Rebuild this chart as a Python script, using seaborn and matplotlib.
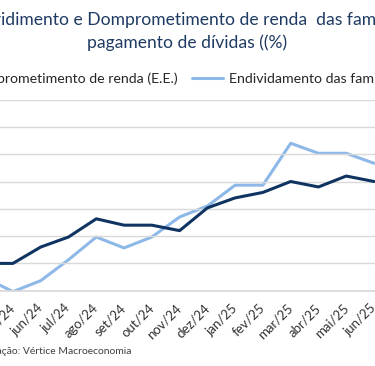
import matplotlib
matplotlib.use("Agg")
import matplotlib.pyplot as plt
import seaborn as sns
import pandas as pd

months = ["abr/24", "mai/24", "jun/24", "jul/24", "ago/24", "set/24", "out/24",
          "nov/24", "dez/24", "jan/25", "fev/25", "mar/25", "abr/25", "mai/25", "jun/25"]
comprometimento = [26.50, 26.50, 26.68, 26.79, 26.99, 26.92, 26.92,
                   26.86, 27.11, 27.22, 27.28, 27.40, 27.34, 27.46, 27.40]
endividamento = [47.74, 47.59, 47.71, 47.94, 48.19, 48.07, 48.19,
                 48.41, 48.53, 48.76, 48.76, 49.22, 49.11, 49.11, 49.00]

dark = "#0f3461"
light = "#8db8e8"
grid_c = "#d9d9d9"
title_c = "#1f3b63"

df = pd.DataFrame({"mes": months, "x": range(len(months)),
                   "comp": comprometimento, "endiv": endividamento})

sns.set_theme(style="white")
plt.rcParams["font.family"] = ["Lato", "DejaVu Sans"]

fig = plt.figure(figsize=(3.75, 3.66), dpi=100)
# plot area is wider than the visible crop: y axes fall outside the image
ax = fig.add_axes([-28.7 / 375, 75.3 / 366, 416.6 / 375, 191.1 / 366])
ax2 = ax.twinx()

sns.lineplot(data=df, x="x", y="comp", ax=ax, color=dark, lw=2.2,
             label="Comprometimento de renda (E.E.)", legend=False)
sns.lineplot(data=df, x="x", y="endiv", ax=ax2, color=light, lw=2.2,
             label="Endividamento das famílias (E.D.)", legend=False)

ax.set_xlim(-0.5, len(months) - 0.5)
ax.set_ylim(26.2, 28.3)
ax2.set_ylim(47.6, 49.7)
ax.set_yticks([26.2 + 0.3 * i for i in range(8)])
ax2.set_yticks([47.6 + 0.3 * i for i in range(8)])
ax.yaxis.grid(True, color=grid_c, lw=1)
ax.set_zorder(ax2.get_zorder() + 1)
ax.patch.set_visible(False)

ax.set_xticks(df["x"])
ax.set_xticklabels(df["mes"], rotation=45, ha="right", va="center",
                   rotation_mode="anchor", fontsize=9.5, color="#333333")
ax.tick_params(axis="x", length=0, pad=11)
ax.set_xlabel("")
ax.set_ylabel("")
ax2.set_ylabel("")
for a in (ax, ax2):
    for s in a.spines.values():
        s.set_visible(False)
ax.spines["bottom"].set_visible(True)
ax.spines["bottom"].set_color(grid_c)

# title: the image is a crop, the first line starts off-canvas
renderer = fig.canvas.get_renderer()
pre = fig.text(0, 0, "Endivi", fontsize=12.6)
pre_w = pre.get_window_extent(renderer).width
pre.remove()
fig.text((5 - pre_w) / 375, 1 - 20 / 366,
         "Endividimento e Domprometimento de renda  das famílias com",
         ha="left", va="center", fontsize=12.6, color=title_c)
fig.text(0.5, 1 - 43 / 366, "pagamento de dívidas ((%)",
         ha="center", va="center", fontsize=12.6, color=title_c)

h1, l1 = ax.get_legend_handles_labels()
h2, l2 = ax2.get_legend_handles_labels()
fig.legend(h1 + h2, l1 + l2, loc="center",
           bbox_to_anchor=(0.5 - 5 / 375, 1 - 79 / 366),
           ncol=2, frameon=False, fontsize=10.2, handlelength=2.2,
           columnspacing=1.0, handletextpad=0.4, labelcolor="#262626")

fig.text(131 / 375, 1 - 351 / 366, "Fonte: BCB. Elaboração: Vértice Macroeconomia",
         ha="right", va="center", fontsize=7.5, color="#404040")

fig.savefig("out.png", dpi=100)
